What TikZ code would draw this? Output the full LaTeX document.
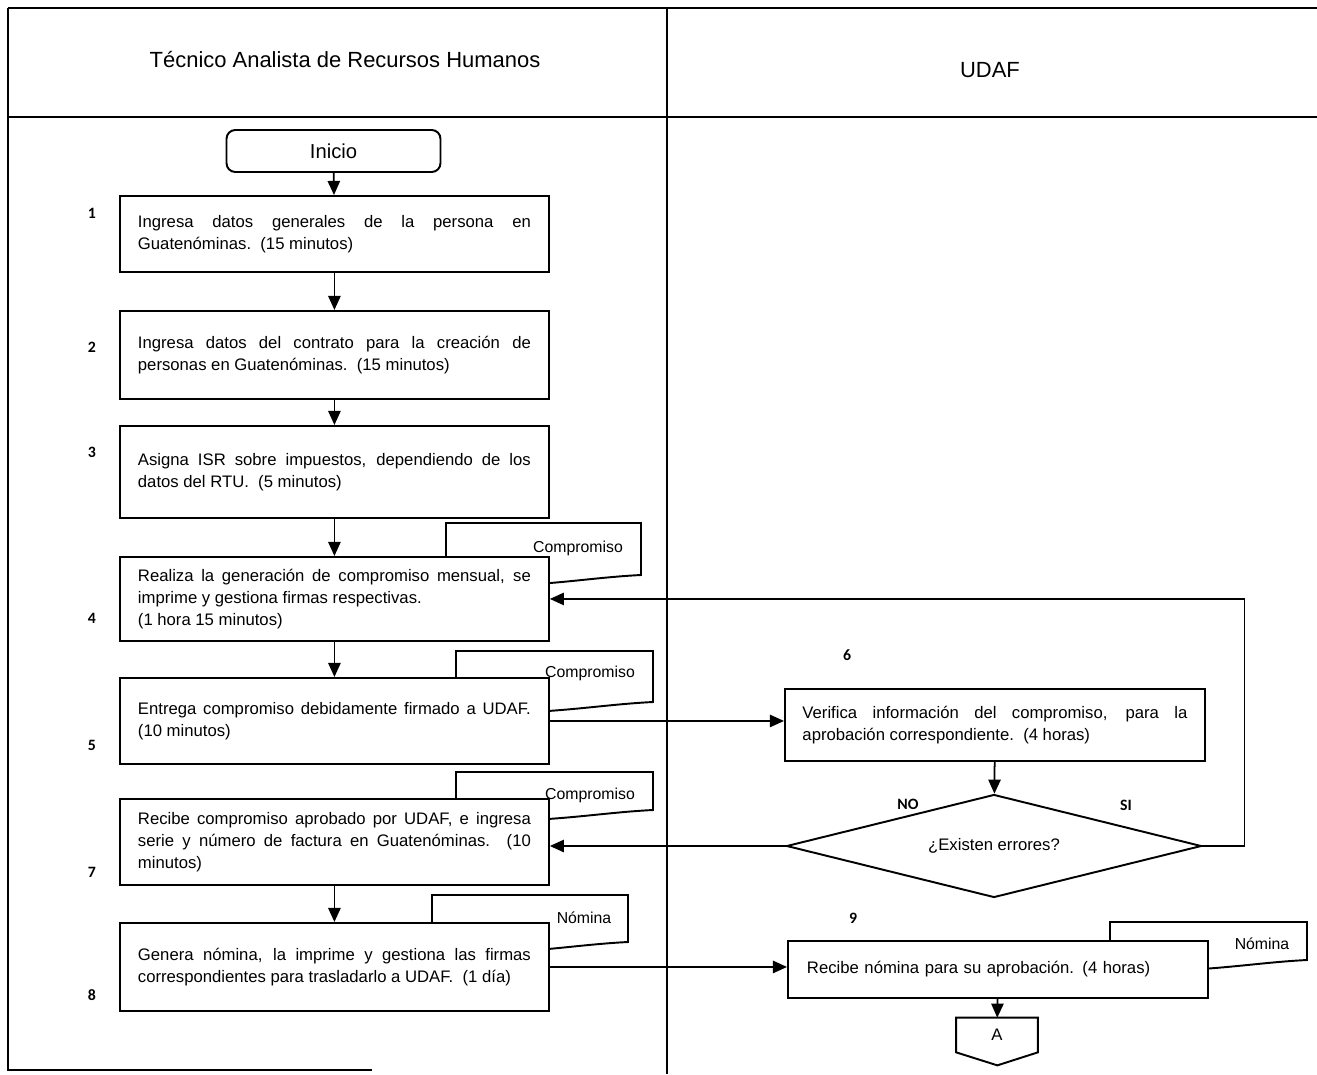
\documentclass[tikz,border=0pt]{standalone}
\usepackage{fontspec}
\setmainfont{Liberation Sans}
\newfontfamily\numfont{Carlito}
\usepackage{tikz}
\usetikzlibrary{positioning, shapes.geometric, arrows.meta}
\tikzstyle{flow} = [line width=1pt, -{Triangle[length=8pt, width=7pt]}]

% tab of a document symbol behind a box: left, top, right, bottom
\newcommand{\docshape}[4]{%
    \draw[docline] (#1,#2) -- (#3,#2) -- (#3,#4)
        .. controls (#3-60,#4+3) and (#1+90,#4+14) .. (#1,#4+10) -- cycle;}

\begin{document}
\begin{tikzpicture}[x=0.02cm, y=-0.02cm,
    procbox/.style={rectangle, draw, line width=1.1pt, fill=white, anchor=north west, minimum width=8.58cm, text width=7.86cm, inner xsep=0.36cm, align=justify, font=\fontsize{9.5}{12.5}\selectfont},
    udafbox/.style={procbox, minimum width=8.4cm, text width=7.7cm, inner xsep=0.35cm},
    startbox/.style={rectangle, draw, rounded corners=5pt, line width=1.1pt, minimum width=4.28cm, minimum height=0.84cm, font=\fontsize{11.5}{13}\selectfont},
    decision/.style={diamond, draw, line width=1.1pt, fill=white, aspect=4.03, minimum width=8.3cm, minimum height=2.06cm, inner sep=0pt, font=\fontsize{9.5}{12}\selectfont},
    offpage/.style={minimum width=1.62cm, minimum height=0.68cm, inner sep=0pt, font=\fontsize{9.5}{12}\selectfont},
    docline/.style={line width=1.1pt, fill=white},
    doclabel/.style={font=\fontsize{9}{11}\selectfont},
    numlabel/.style={font=\numfont\bfseries\fontsize{9}{11}\selectfont},
    lanetitle/.style={font=\fontsize{12.5}{15}\selectfont},
    laneline/.style={line width=0.8pt}
]
    \useasboundingbox (0,0) rectangle (1317,1074);

    % Swimlanes
    \draw[laneline] (8,8) -- (1317,8);
    \draw[laneline] (8,117) -- (1317,117);
    \draw[laneline] (8,8) -- (8,1070) -- (372,1070);
    \draw[laneline] (667,8) -- (667,1074);
    \node[lanetitle] (laneRH) at (345,60) {Técnico Analista de Recursos Humanos};
    \node[lanetitle] (laneUDAF) at (990,70) {UDAF};

    % Documents behind the boxes
    \docshape{446}{523}{641}{575}
    \docshape{456}{651}{653}{702}
    \docshape{456}{772}{653}{810}
    \docshape{432}{895}{628}{942}
    \docshape{1110}{922}{1307}{960}
    \node[doclabel] (doc4) at (578,548) {Compromiso};
    \node[doclabel] (doc5) at (590,673) {Compromiso};
    \node[doclabel] (doc7) at (590,795) {Compromiso};
    \node[doclabel] (doc8) at (584,918) {Nómina};
    \node[doclabel] (doc9) at (1262,944) {Nómina};

    % Left lane
    \node[startbox] (inicio) at (333.5,151) {Inicio};
    \node[procbox, minimum height=1.52cm] (box1) at (119,195) {Ingresa datos generales de la persona en\linebreak Guatenóminas.\ \ (15 minutos)};
    \node[procbox, minimum height=1.76cm] (box2) at (119,310) {Ingresa datos del contrato para la creación de\linebreak personas en Guatenóminas.\ \ (15 minutos)};
    \node[procbox, minimum height=1.84cm] (box3) at (119,425) {Asigna ISR sobre impuestos, dependiendo de los\linebreak datos del RTU.\ \ (5 minutos)};
    \node[procbox, minimum height=1.68cm] (box4) at (119,556) {Realiza la generación de compromiso mensual, se\linebreak imprime y gestiona firmas respectivas.\\ (1 hora 15 minutos)};
    \node[procbox, minimum height=1.72cm] (box5) at (119,677) {Entrega compromiso debidamente firmado a UDAF.\linebreak (10 minutos)};
    \node[procbox, minimum height=1.72cm] (box7) at (119,798) {Recibe compromiso aprobado por UDAF, e ingresa\linebreak serie y número de factura en Guatenóminas.\ \ (10\linebreak minutos)};
    \node[procbox, minimum height=1.76cm] (box8) at (119,922) {Genera nómina, la imprime y gestiona las firmas\linebreak correspondientes para trasladarlo a UDAF.\ \ (1 día)};

    \node[numlabel] (n1) at (92,213) {1};
    \node[numlabel] (n2) at (92,347) {2};
    \node[numlabel] (n3) at (92,452) {3};
    \node[numlabel] (n4) at (92,618) {4};
    \node[numlabel] (n5) at (92,745) {5};
    \node[numlabel] (n7) at (92,872) {7};
    \node[numlabel] (n8) at (92,995) {8};

    % Right lane
    \node[udafbox, minimum height=1.44cm] (box6) at (784,688) {Verifica información del compromiso, para la\linebreak aprobación correspondiente.\ \ (4 horas)};
    \node[decision] (dec) at (994,846) {¿Existen errores?};
    \node[udafbox, align=left, text width=7.64cm, inner xsep=0.38cm, minimum height=1.14cm] (box9) at (787,940) {Recibe nómina para su aprobación. (4 horas)};
    \node[offpage] (conA) at (997,1035) {A};
    \draw[line width=1.1pt] (conA.north west) -- (conA.north east) -- (conA.south east)
        -- ++(-0.81cm,-0.26cm) -- (conA.south west) -- cycle;

    \node[numlabel] (n6) at (847,655) {6};
    \node[numlabel] (n9) at (853,918) {9};
    \node[numlabel] (lblNo) at (908,804) {NO};
    \node[numlabel] (lblSi) at (1126,805) {SI};

    % Flow
    \draw[flow] (inicio) -- (box1);
    \draw[flow] (box1) -- (box2);
    \draw[flow] (box2) -- (box3);
    \draw[flow] (box3) -- (box4);
    \draw[flow] (box4) -- (box5);
    \draw[flow] (box5.east) -- (box5.east -| box6.west);
    \draw[flow] (box6) -- (dec);
    \draw[flow] (dec.west) -- (dec.west -| box7.east);
    \draw[flow] (dec.east) -- ++(0.84cm,0) |- (box4.east);
    \draw[flow] (box7) -- (box8);
    \draw[flow] (box8.east) -- (box8.east -| box9.west);
    \draw[flow] (box9) -- (conA);

\end{tikzpicture}
\end{document}
